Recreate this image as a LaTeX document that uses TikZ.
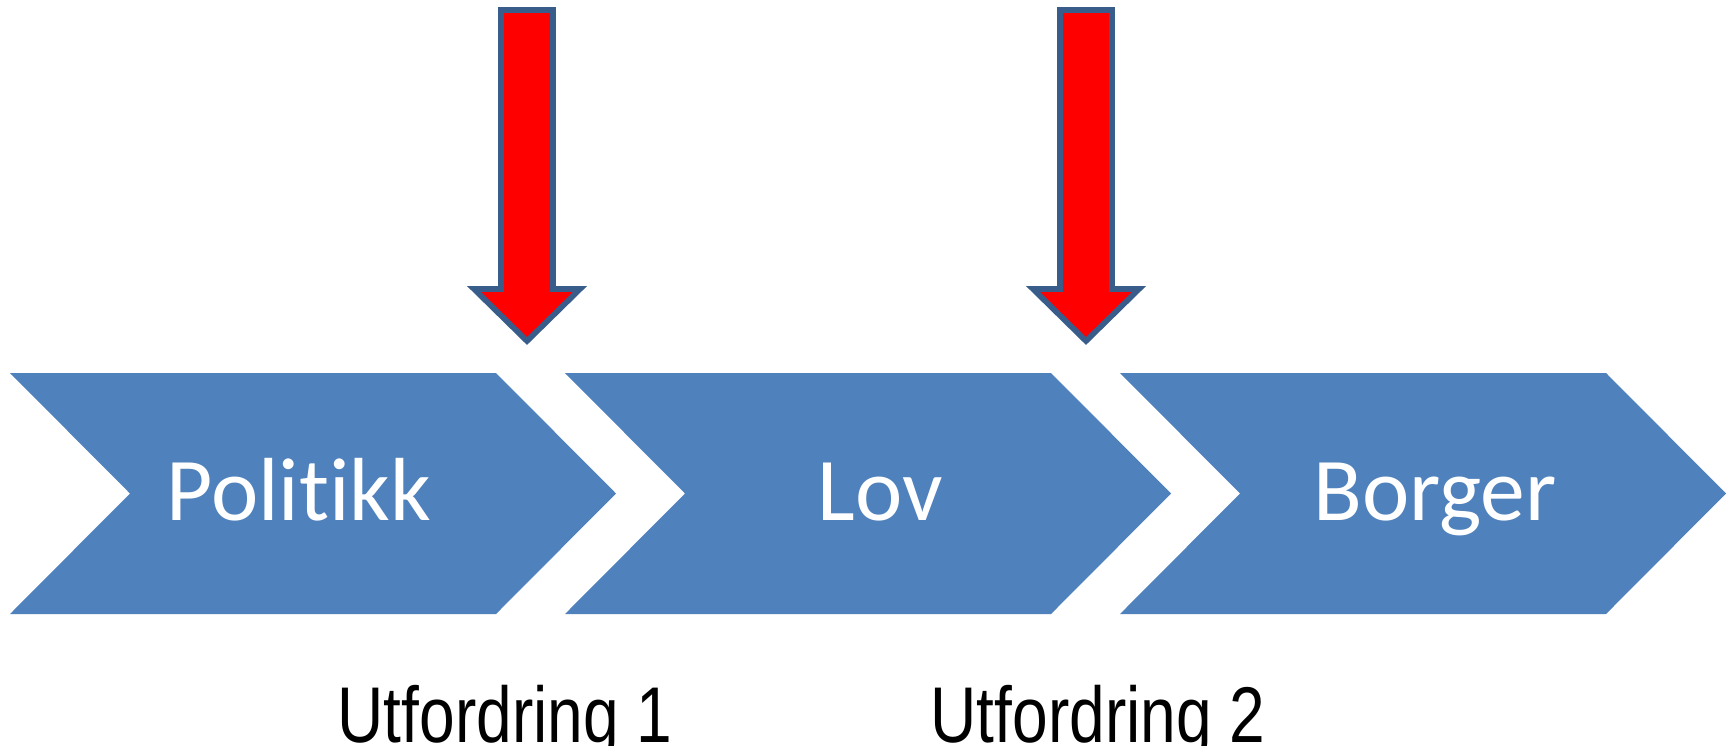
\documentclass[tikz,border=0pt]{standalone}
\usepackage{fontspec}
\newfontfamily\calibrifont[Ligatures={NoCommon}]{Carlito}
\newfontfamily\narrowfont[FakeStretch=0.81]{Liberation Sans}
\definecolor{chevblue}{HTML}{4F81BD}
\definecolor{arrowedge}{HTML}{385D8A}
\begin{document}
\begin{tikzpicture}[x=0.02cm, y=-0.02cm]
\tikzstyle{chevron} = [fill = chevblue, draw = none]
\tikzstyle{downarrow} = [fill = red, draw = arrowedge, line width = 3.2pt, line join = miter]
\tikzstyle{steplabel} = [text = white, anchor = base, inner sep = 0pt, font = \calibrifont\fontsize{51}{60}\selectfont]
\tikzstyle{challenge} = [text = black, anchor = base, inner sep = 0pt, font = \narrowfont\fontsize{45}{54}\selectfont]
\useasboundingbox (0,0) rectangle (1731,745);
\foreach \x in {10,565,1120} {
  \fill[chevron] (\x,373) -- (\x+486,373) -- (\x+606,493.5) -- (\x+486,614) -- (\x,614) -- (\x+120,493.5) -- cycle;
}
\foreach \x in {527,1086} {
  \draw[downarrow] (\x-26,10) -- (\x+26,10) -- (\x+26,289) -- (\x+53,289) -- (\x,341) -- (\x-53,289) -- (\x-26,289) -- cycle;
}
\node[steplabel] (politikk) at (299,520) {Politikk};
\node[steplabel] (lov) at (880,520) {Lov};
\node[steplabel] (borger) at (1435,520) {Borger};
\node[challenge] (utf1) at (505,742) {Utfordring 1};
\node[challenge] (utf2) at (1098,742) {Utfordring 2};
\end{tikzpicture}
\end{document}
